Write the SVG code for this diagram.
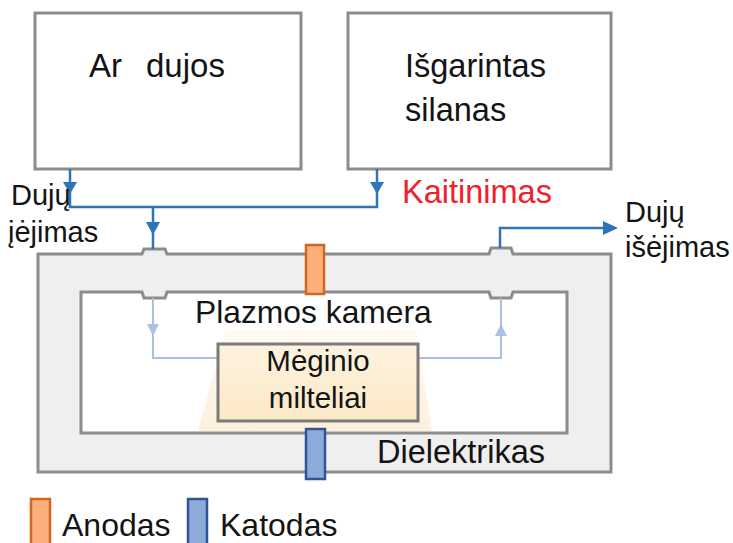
<svg xmlns="http://www.w3.org/2000/svg" width="733" height="543" viewBox="0 0 733 543">
<style>
.t{font-family:"Liberation Sans",Arial,sans-serif;fill:#141414}
.box{fill:#ffffff;stroke:#8c8c8c;stroke-width:3}
.flow{stroke:#2e75b6;stroke-width:2.5;fill:none}
.flowL{stroke:#a9c3df;stroke-width:2;fill:none}
.ah{fill:#2e75b6}
.ahL{fill:#a9c3df}
.anode{fill:#fbb07c;stroke:#d2661c;stroke-width:2.5}
.cathode{fill:#8eaadb;stroke:#2f5597;stroke-width:2.5}
</style>
<defs>
<linearGradient id="glow" x1="0" y1="0" x2="0" y2="1">
<stop offset="0" stop-color="#fffaf3"/>
<stop offset="1" stop-color="#fdf0dc"/>
</linearGradient>
<linearGradient id="sample" x1="0" y1="0" x2="0" y2="1">
<stop offset="0" stop-color="#fdf3df"/>
<stop offset="1" stop-color="#fce8c6"/>
</linearGradient>
</defs>
<rect width="733" height="543" fill="#ffffff"/>

<g id="ar-dujos">
<rect class="box" x="35" y="13" width="266" height="156"/>
<text class="t" x="89" y="77" font-size="33">Ar</text>
<text class="t" x="146" y="77" font-size="33">dujos</text>
</g>

<g id="silanas">
<rect class="box" x="348" y="13" width="263" height="156"/>
<text class="t" x="405" y="77" font-size="32.5">Išgarintas</text>
<text class="t" x="405" y="121" font-size="32.5">silanas</text>
</g>

<g id="dielektrikas">
<path d="M38,254 H142 L144,249 H165 L167,254 H489 L491,248 H511 L513,254 H611 V472 H38 Z" fill="#efefef" stroke="#8c8c8c" stroke-width="3"/>
<text class="t" x="377" y="463" font-size="32.5">Dielektrikas</text>
</g>

<g id="plazmos-kamera">
<path d="M81,292 H142 L144,298 H165 L167,292 H489 L491,298 H511 L513,292 H567 V433 H81 Z" fill="#ffffff" stroke="#8c8c8c" stroke-width="3"/>
<polygon points="226,330 416,330 432,431 198,431" fill="url(#glow)"/>
<text class="t" x="195" y="323" font-size="31.8">Plazmos kamera</text>
</g>

<g id="connectors">
<path class="flow" d="M70,169 V207 H377 V169"/>
<path class="flow" d="M153,207 V249"/>
<path class="flow" d="M500,248 V228 H605"/>
<polygon class="ah" points="63,182 77,182 70,194"/>
<polygon class="ah" points="370,182 384,182 377,194"/>
<polygon class="ah" points="146,222 160,222 153,235"/>
<polygon class="ah" points="603,221 603,235 618,228"/>
<path class="flowL" d="M153,298 V358 H501 V298"/>
<polygon class="ahL" points="147,324 159,324 153,336"/>
<polygon class="ahL" points="495,336 507,336 501,324"/>
</g>

<g id="meginio-milteliai">
<rect x="218" y="344" width="200" height="77" fill="url(#sample)" stroke="#7a7a7a" stroke-width="3"/>
<text class="t" x="318" y="371" font-size="29.5" text-anchor="middle">Mėginio</text>
<text class="t" x="318" y="408" font-size="29.5" text-anchor="middle">milteliai</text>
</g>

<g id="anodas">
<rect class="anode" x="306" y="245" width="18" height="49"/>
</g>
<g id="katodas">
<rect class="cathode" x="306" y="429" width="19" height="50"/>
</g>

<g id="labels">
<text class="t" x="11" y="205" font-size="29">Dujų</text>
<text class="t" x="8" y="242" font-size="29">įėjimas</text>
<text x="402" y="203" font-size="32.5" font-family="Liberation Sans,Arial,sans-serif" fill="#f0202e">Kaitinimas</text>
<text class="t" x="625" y="222" font-size="29">Dujų</text>
<text class="t" x="625" y="257" font-size="29">išėjimas</text>
</g>

<g id="legend">
<rect class="anode" x="31" y="499" width="19" height="50"/>
<text class="t" x="62" y="536" font-size="32">Anodas</text>
<rect class="cathode" x="188" y="499" width="19" height="50"/>
<text class="t" x="220" y="536" font-size="32">Katodas</text>
</g>
</svg>
